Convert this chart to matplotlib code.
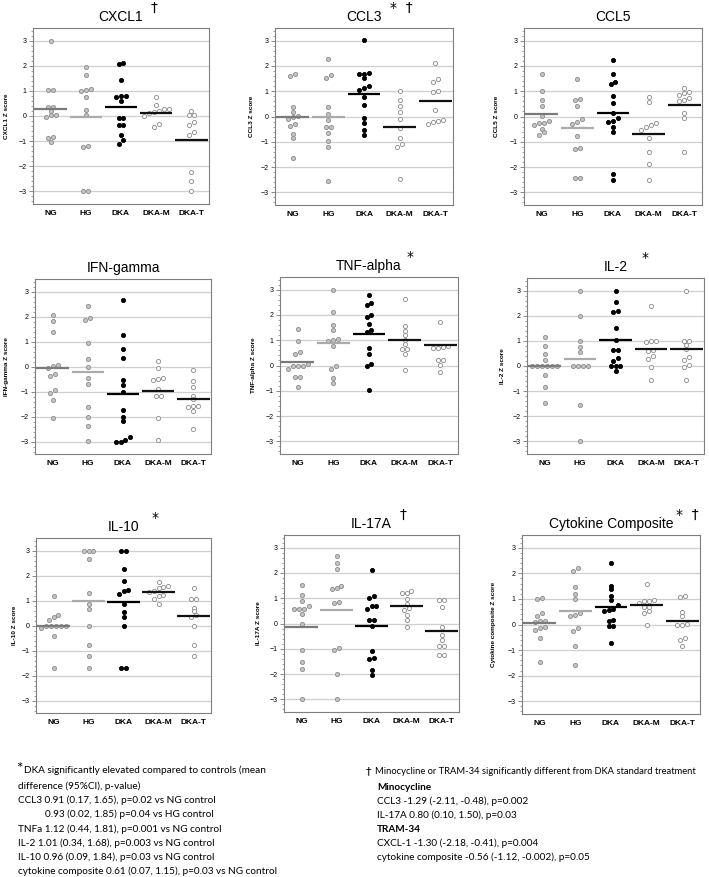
import numpy as np
import matplotlib
matplotlib.use("Agg")
import matplotlib.pyplot as plt
from matplotlib import font_manager
from matplotlib.ticker import MultipleLocator, FixedLocator

# ---------------- data ----------------
groups = ["NG", "HG", "DKA", "DKA-M", "DKA-T"]

cxcl1 = [
    [3.0, 1.05, 1.02, 0.36, 0.35, 0.2, 0.05, -0.05, 0.05, -0.88, -0.85, -1.05],
    [1.94, 1.65, 1.07, 1.02, 1.0, 0.74, 0.25, 0.05, -1.22, -1.18, -3.0, -3.0],
    [2.05, 2.1, 1.43, 0.78, 0.8, 0.76, 0.58, -0.08, -0.08, -0.36, -0.36, -0.74, -0.97, -1.1],
    [0.74, 0.45, 0.29, 0.21, 0.28, 0.15, 0.12, 0.0, -0.3, -0.42],
    [0.18, 0.02, 0.02, -0.22, -0.36, -0.62, -0.74, -2.22, -2.6, -3.0]]
cxcl1_mean = [0.28, -0.05, 0.35, 0.12, -0.96]

ccl3 = [
    [1.6, 1.67, 0.37, 0.19, 0.0, 0.03, -0.09, -0.28, -0.39, -0.70, -0.86, -1.66],
    [2.28, 1.51, 1.64, 0.36, 0.11, -0.15, -0.4, -0.4, -0.65, -0.95, -1.2, -2.56],
    [3.04, 1.74, 1.69, 1.69, 1.52, 1.13, 1.2, 1.03, 0.76, 0.44, -0.05, -0.27, -0.55, -0.73],
    [1.01, 0.64, 0.4, 0.18, -0.09, -0.44, -0.85, -1.07, -1.2, -2.47],
    [2.1, 1.48, 1.35, 0.97, 1.0, 0.26, -0.12, -0.23, -0.31, -0.17]]
ccl3_mean = [0.0, -0.03, 0.89, -0.4, 0.62]

ccl5 = [
    [1.68, 1.02, 0.67, 0.43, 0.03, -0.17, -0.25, -0.25, -0.34, -0.49, -0.63, -0.73],
    [1.5, 0.7, 0.66, 0.42, -0.2, -0.1, -0.31, -0.79, -1.29, -1.23, -2.45, -2.45],
    [2.24, 1.67, 1.27, 1.36, 0.83, 0.55, 0.14, -0.05, -0.21, -0.17, -0.41, -0.62, -2.27, -2.52],
    [0.79, 0.58, -0.25, -0.34, -0.43, -0.54, -0.84, -1.4, -1.89, -2.51],
    [1.12, 0.98, 0.87, 0.91, 0.73, 0.62, 0.66, 0.14, -0.05, -1.4]]
ccl5_mean = [0.09, -0.45, 0.12, -0.68, 0.45]

ifng = [
    [2.08, 1.83, 1.4, 0.03, 0.07, -0.07, -0.36, -0.28, -0.93, -1.05, -1.35, -2.05],
    [2.43, 1.96, 1.88, 0.93, 0.29, -0.03, -0.44, -0.69, -1.61, -2.01, -2.37, -2.99],
    [2.65, 1.25, 0.69, 0.35, -0.52, -0.73, -1.03, -1.73, -2.03, -2.17, -2.83, -3.0, -3.0, -2.95],
    [0.23, -0.07, -0.44, -0.52, -0.49, -0.91, -1.16, -1.19, -2.05, -2.93],
    [-0.13, -0.57, -0.81, -1.16, -1.31, -1.57, -1.6, -1.56, -1.79, -2.49]]
ifng_mean = [-0.05, -0.21, -1.08, -0.96, -1.29]

tnfa = [
    [1.43, 0.96, 0.52, 0.45, 0.05, 0.0, 0.0, 0.0, -0.13, -0.44, -0.44, -0.87],
    [3.0, 2.11, 1.62, 1.39, 1.04, 1.0, 0.96, 0.79, -0.13, 0.0, -0.48, -0.7],
    [2.79, 2.39, 2.48, 1.98, 1.92, 1.65, 1.33, 1.4, 0.7, 0.46, 0.07, -0.01, -0.95],
    [2.63, 1.56, 1.36, 1.19, 1.02, 0.85, 0.66, 0.66, 0.44, -0.18],
    [1.74, 0.79, 0.71, 0.71, 0.73, 0.21, 0.21, 0.01, -0.26]]
tnfa_mean = [0.13, 0.9, 1.25, 1.02, 0.81]

il2 = [
    [1.14, 0.81, 0.49, 0.24, 0, 0, 0, 0, 0, 0, -0.37, -0.82, -1.48],
    [3.0, 1.97, 0.99, 0.75, 0.54, 0, 0, 0, 0, -1.56, -3.0],
    [3.0, 2.54, 2.15, 2.2, 1.51, 1.03, 0.65, 0.65, 0.3, 0.2, 0, 0, 0, -0.19],
    [2.37, 1.0, 0.95, 1.0, 0.62, 0.58, 0.41, 0.29, -0.05, -0.54],
    [3.0, 1.0, 1.0, 0.85, 0.69, 0.36, 0.23, 0.03, -0.03, -0.54]]
il2_mean = [0.0, 0.26, 1.02, 0.66, 0.66]

il10 = [
    [1.17, 0.41, 0.35, 0.21, 0, 0, 0, 0, 0, -0.08, -0.41, -1.68],
    [3.0, 3.0, 3.0, 2.68, 1.29, 0.88, 0.65, 0.0, -0.76, -1.2, -1.68],
    [3.0, 3.0, 2.27, 1.79, 1.37, 1.28, 1.41, 0.88, 0.55, 0.33, 0.0, -1.68, -1.68],
    [1.73, 1.55, 1.58, 1.5, 1.35, 1.37, 1.21, 1.08, 1.2, 0.87],
    [1.51, 1.08, 1.05, 0.72, 0.57, 0.41, 0.35, -0.03, -0.76, -1.2]]
il10_mean = [0.0, 1.0, 0.95, 1.35, 0.37]

il17a = [
    [1.54, 1.11, 0.9, 0.7, 0.59, 0.59, 0.59, 0.36, 0.0, -1.04, -1.54, -1.81, -3.0],
    [2.68, 2.41, 2.14, 1.42, 1.38, 1.5, 0.8, 0.87, -0.95, -1.05, -2.0, -3.0],
    [2.11, 1.08, 1.02, 0.7, 0.7, 0.57, 0.13, 0.13, -0.08, -1.08, -1.38, -1.42, -1.83, -2.05],
    [1.27, 1.2, 1.2, 0.98, 0.78, 0.6, 0.55, 0.33, 0.13, -0.13],
    [0.93, 0.93, 0.67, -0.13, -0.44, -0.65, -0.9, -0.9, -1.25, -1.25]]
il17a_mean = [-0.13, 0.53, -0.09, 0.7, -0.28]

cyto = [
    [1.0, 1.03, 0.45, 0.34, 0.15, 0.1, 0.12, -0.1, -0.15, -0.22, -0.54, -1.45],
    [2.1, 2.2, 1.46, 1.2, 0.98, 0.46, 0.35, 0.37, -0.13, -0.25, -0.84, -1.59],
    [2.41, 1.52, 1.37, 1.12, 0.95, 0.75, 0.62, 0.55, 0.52, 0.17, 0.13, -0.07, -0.07, -0.72],
    [1.57, 0.97, 0.92, 0.92, 0.85, 0.68, 0.68, 0.52, 0.45, -0.02],
    [1.12, 1.07, 0.49, 0.35, 0.03, -0.03, 0.0, -0.52, -0.62, -0.83]]
cyto_mean = [0.06, 0.53, 0.7, 0.76, 0.12]

titles = ["CXCL1", "CCL3", "CCL5", "IFN-gamma", "TNF-alpha", "IL-2",
          "IL-10", "IL-17A", "Cytokine Composite"]
ylabels = ["CXCL1 Z score", "CCL3 Z score", "CCL5 Z score", "IFN-gamma Z score",
           "TNF-alpha Z score", "IL-2 Z score", "IL-10 Z score", "IL-17A Z score",
           "Cytokine composite Z score"]
marks = ["\u2020", "*  \u2020", "", "", "*", "*", "*", "\u2020", "*  \u2020"]
datasets = [cxcl1, ccl3, ccl5, ifng, tnfa, il2, il10, il17a, cyto]
means = [cxcl1_mean, ccl3_mean, ccl5_mean, ifng_mean, tnfa_mean, il2_mean,
         il10_mean, il17a_mean, cyto_mean]

foot_left = [
    "difference (95%CI), p-value)",
    "CCL3 0.91 (0.17, 1.65), p=0.02 vs NG control",
    "0.93 (0.02, 1.85) p=0.04 vs HG control",
    "TNFa 1.12 (0.44, 1.81), p=0.001 vs NG control",
    "IL-2 1.01 (0.34, 1.68), p=0.003 vs NG control",
    "IL-10 0.96 (0.09, 1.84), p=0.03 vs NG control",
    "cytokine composite 0.61 (0.07, 1.15), p=0.03 vs NG control",
]
foot_right = [
    ("Minocycline", True),
    ("CCL3 -1.29 (-2.11, -0.48), p=0.002", False),
    ("IL-17A 0.80 (0.10, 1.50), p=0.03", False),
    ("TRAM-34", True),
    ("CXCL-1 -1.30 (-2.18, -0.41), p=0.004", False),
    ("cytokine composite -0.56 (-1.12, -0.002), p=0.05", False),
]

# ---------------- fonts ----------------
def has_font(name):
    try:
        font_manager.findfont(name, fallback_to_default=False)
        return True
    except Exception:
        return False

title_font = ["Liberation Sans Narrow"] if has_font("Liberation Sans Narrow") else ["Liberation Sans"]
title_font = title_font + ["DejaVu Sans"]
note_font = ["Lato", "DejaVu Sans"]

# ---------------- layout ----------------
W, H = 709, 877
fig = plt.figure(figsize=(W / 100, H / 100), dpi=100)

def fx(px):
    return px / W

def fy(py):
    return 1 - py / H

# (left, top, right, bottom) in pixels, ylabel x in pixels, mark x in pixels
boxes = [
    (33, 28, 209, 204, 4, 151),
    (275, 28, 453, 205, 249, 390),
    (524, 28, 702, 205, 494, None),
    (35, 279, 211, 454, 4, None),
    (280, 277, 458, 454, 251, 407),
    (527, 278, 704, 454, 500, 642),
    (36, 538, 211, 713, 12, 152),
    (284, 535, 459, 712, 256, 400),
    (522, 535, 700, 714, 491, 676),
]

grp_face = ["#c4c4c4", "#c4c4c4", "#000000", "#ffffff", "#ffffff"]
grp_edge = ["#8c8c8c", "#8c8c8c", "#000000", "#8a8a8a", "#8a8a8a"]
mean_col = ["#7a7a7a", "#ababab", "#000000", "#111111", "#111111"]


def swarm_offsets(vals, ythr=0.14, step=0.14):
    vals = np.asarray(vals, float)
    order = np.argsort(vals, kind="stable")
    offs = np.zeros(len(vals))
    clusters = []
    cur = [order[0]]
    for i in order[1:]:
        if vals[i] - vals[cur[-1]] < ythr:
            cur.append(i)
        else:
            clusters.append(cur)
            cur = [i]
    clusters.append(cur)
    for c in clusters:
        n = len(c)
        for k, idx in enumerate(c):
            offs[idx] = (k - (n - 1) / 2) * step
    return offs


for p in range(9):
    l, t, r, b, ylx, mkx = boxes[p]
    ax = fig.add_axes([fx(l), fy(b), fx(r) - fx(l), fy(t) - fy(b)])
    ax.set_xlim(-0.5, 4.5)
    ax.set_ylim(-3.5, 3.5)
    for yv in range(-3, 4):
        ax.axhline(yv, color="#cfcfcf", lw=0.9, zorder=0)
    for g in range(5):
        vals = datasets[p][g]
        xs = g + swarm_offsets(vals)
        ax.plot(xs, vals, linestyle="none", marker="o", ms=3.0,
                mfc=grp_face[g], mec=grp_edge[g], mew=0.6, zorder=3)
        ax.plot([g - 0.46, g + 0.46], [means[p][g]] * 2, color=mean_col[g],
                lw=1.6, solid_capstyle="butt", zorder=4)
    ax.set_xticks(range(5))
    ax.set_xticklabels(groups, fontsize=6, fontweight="bold",
                       family=["Liberation Sans", "DejaVu Sans"])
    ax.tick_params(axis="x", length=0, pad=4)
    ax.yaxis.set_major_locator(FixedLocator([-3, -2, -1, 0, 1, 2, 3]))
    ax.yaxis.set_minor_locator(MultipleLocator(0.2))
    ax.tick_params(axis="y", which="major", length=3, width=0.6, color="#777777",
                   labelsize=5, pad=1.5)
    ax.tick_params(axis="y", which="minor", length=1.5, width=0.5, color="#777777")
    for lab in ax.get_yticklabels():
        lab.set_family(["Liberation Sans", "DejaVu Sans"])
    for s in ax.spines.values():
        s.set_color("#7f7f7f")
        s.set_linewidth(0.8)
    ax.set_title(titles[p], fontsize=10, family=title_font, pad=5)
    fig.text(fx(ylx), fy((t + b) / 2), ylabels[p], rotation=90, ha="left",
             va="center", fontsize=4.6, fontweight="bold",
             family=["Liberation Sans", "DejaVu Sans"])
    if marks[p]:
        fig.text(fx(mkx), fy(t - 20), marks[p], ha="left", va="center",
                 fontsize=10, family=["DejaVu Sans"])

# ---------------- footnotes ----------------
fs = 7.2
fig.text(fx(16), fy(769), "*", fontsize=11, ha="left", va="center", family=note_font)
fig.text(fx(24), fy(770), "DKA significantly elevated compared to controls (mean",
         fontsize=fs, ha="left", va="center", family=note_font)
ly = [786, 800, 814, 829, 843, 857, 871]
for i, s in enumerate(foot_left):
    xx = 45 if i == 2 else 18
    fig.text(fx(xx), fy(ly[i]), s, fontsize=fs, ha="left", va="center", family=note_font)

fig.text(fx(366), fy(771), "\u2020", fontsize=8, ha="left", va="center", family=["DejaVu Sans"])
fig.text(fx(375), fy(772), "Minocycline or TRAM-34 significantly different from DKA standard treatment",
         fontsize=6.75, ha="left", va="center", family=note_font)
ry = [787, 801, 815, 829, 843, 857]
for i, (s, bold) in enumerate(foot_right):
    fig.text(fx(377), fy(ry[i]), s, fontsize=fs, ha="left", va="center",
             family=note_font, fontweight="bold" if bold else "normal")

fig.savefig("out.png", dpi=100)
